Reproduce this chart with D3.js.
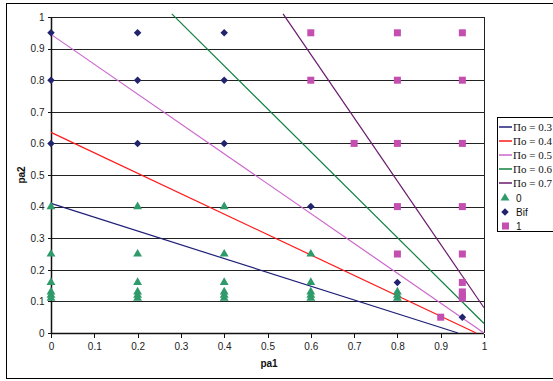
<!DOCTYPE html>
<meta charset="utf-8">
<style>
    body { margin: 0; background: #fff; }
    .tick text { font: 10px Arial, "Liberation Sans", sans-serif; fill: #222; }
    .title { font: bold 10px Arial, "Liberation Sans", sans-serif; fill: #111; }
    .legend text { font-size: 11px; fill: #111; }
</style>
<svg width="553" height="381"></svg>
<script src="https://cdn.jsdelivr.net/npm/d3@7"></script>
<script>

    // lines: Πo levels, each a straight segment [x, y] -> [x, y]
    var lineNames = ["Πo = 0.3", "Πo = 0.4", "Πo = 0.5", "Πo = 0.6", "Πo = 0.7"];
    var lineColors = ["#1f1f78", "#ff1a1a", "#cc66cc", "#118040", "#6a1a6e"];
    var lineSegs = [
        [[0, 0.41], [0.94, 0]],
        [[0, 0.635], [0.982, 0]],
        [[0, 0.945], [1, 0]],
        [[0.279, 1.01], [1, 0.03]],
        [[0.536, 1.01], [1, 0.08]]
    ];

    // point series
    var zeroPts = [
        [0, 0.4], [0, 0.25], [0, 0.16], [0, 0.13], [0, 0.12], [0, 0.11],
        [0.2, 0.4], [0.2, 0.25], [0.2, 0.16], [0.2, 0.13], [0.2, 0.12], [0.2, 0.11],
        [0.4, 0.4], [0.4, 0.25], [0.4, 0.16], [0.4, 0.13], [0.4, 0.12], [0.4, 0.11],
        [0.6, 0.25], [0.6, 0.16], [0.6, 0.13], [0.6, 0.12], [0.6, 0.11],
        [0.8, 0.13], [0.8, 0.12], [0.8, 0.11]
    ];
    var bifPts = [
        [0, 0.95], [0.2, 0.95], [0.4, 0.95],
        [0, 0.8], [0.2, 0.8], [0.4, 0.8],
        [0, 0.6], [0.2, 0.6], [0.4, 0.6],
        [0.6, 0.4], [0.8, 0.16], [0.95, 0.05]
    ];
    var onePts = [
        [0.6, 0.95], [0.8, 0.95], [0.95, 0.95],
        [0.6, 0.8], [0.8, 0.8], [0.95, 0.8],
        [0.7, 0.6], [0.8, 0.6], [0.95, 0.6],
        [0.8, 0.4], [0.95, 0.4],
        [0.8, 0.25], [0.95, 0.25],
        [0.95, 0.16], [0.95, 0.13], [0.95, 0.12], [0.95, 0.11],
        [0.9, 0.05]
    ];
    var xTicks = d3.range(0, 11).map(function (i) { return i / 10; });
    var yTicks = d3.range(0, 11).map(function (i) { return i / 10; });

    var svg = d3.select("svg");

    // chart frame
    svg.append("rect")
        .attr("x", 6.5).attr("y", 3.5)
        .attr("width", 560).attr("height", 375)
        .attr("fill", "#fff").attr("stroke", "#000");

    var x = d3.scaleLinear().domain([0, 1]).range([51, 484]);
    var y = d3.scaleLinear().domain([0, 1]).range([333, 17]);

    // horizontal gridlines
    svg.append("g").selectAll("line")
        .data(yTicks.slice(1))
        .enter().append("line")
        .attr("x1", x(0)).attr("x2", x(1))
        .attr("y1", function (d) { return Math.round(y(d)) + 0.5; })
        .attr("y2", function (d) { return Math.round(y(d)) + 0.5; })
        .attr("stroke", "#222").attr("stroke-width", 1);

    // right border of plot area
    svg.append("line")
        .attr("x1", x(1) + 0.5).attr("x2", x(1) + 0.5)
        .attr("y1", y(1)).attr("y2", y(0))
        .attr("stroke", "#222");

    var xAxis = svg.append("g")
        .attr("transform", "translate(0," + (Math.round(y(0)) + 0.5) + ")")
        .call(d3.axisBottom(x).tickValues(xTicks).tickSize(4).tickPadding(5)
            .tickFormat(function (d) { return d === 0 || d === 1 ? d3.format("d")(d) : d3.format(".1f")(d); }));
    var yAxis = svg.append("g")
        .attr("transform", "translate(" + (Math.round(x(0)) + 0.5) + ",0)")
        .call(d3.axisLeft(y).tickValues(yTicks).tickSize(4).tickPadding(3)
            .tickFormat(function (d) { return d === 0 || d === 1 ? d3.format("d")(d) : d3.format(".1f")(d); }));
    [xAxis, yAxis].forEach(function (a) {
        a.select(".domain").attr("stroke", "#111").attr("stroke-width", 1.5);
        a.selectAll(".tick line").attr("stroke", "#111");
        a.selectAll(".tick line").attr("shape-rendering", "crispEdges");
    });
    xAxis.select(".domain").attr("d", "M" + x(0) + ",0H" + x(1));
    yAxis.select(".domain").attr("d", "M0," + y(0) + "V" + y(1));

    svg.append("text").attr("class", "title")
        .attr("x", 269).attr("y", 367).attr("text-anchor", "middle").text("pa1");
    svg.append("text").attr("class", "title")
        .attr("transform", "translate(25," + y(0.5) + ") rotate(-90)")
        .attr("text-anchor", "middle").text("pa2");

    // lines
    var line = d3.line().x(function (d) { return x(d[0]); }).y(function (d) { return y(d[1]); });
    svg.append("g").selectAll("path")
        .data(lineSegs)
        .enter().append("path")
        .attr("d", line)
        .attr("fill", "none")
        .attr("stroke", function (d, i) { return lineColors[i]; })
        .attr("stroke-width", 1.2);

    // markers
    var triangle = d3.symbol().type(d3.symbolTriangle).size(34);
    var diamond = d3.symbol().type(d3.symbolDiamond2).size(36);

    svg.append("g").selectAll("path")
        .data(zeroPts)
        .enter().append("path")
        .attr("d", triangle)
        .attr("transform", function (d) { return "translate(" + x(d[0]) + "," + y(d[1]) + ")"; })
        .attr("fill", "#2f9a6a");

    svg.append("g").selectAll("path")
        .data(bifPts)
        .enter().append("path")
        .attr("d", diamond)
        .attr("transform", function (d) { return "translate(" + x(d[0]) + "," + y(d[1]) + ")"; })
        .attr("fill", "#22236e");

    svg.append("g").selectAll("rect")
        .data(onePts)
        .enter().append("rect")
        .attr("x", function (d) { return x(d[0]) - 3.5; })
        .attr("y", function (d) { return y(d[1]) - 3.5; })
        .attr("width", 7).attr("height", 7)
        .attr("fill", "#c44fb0");

    // legend
    var lg = svg.append("g").attr("class", "legend");
    lg.append("rect")
        .attr("x", 497.5).attr("y", 117.5)
        .attr("width", 70).attr("height", 114)
        .attr("fill", "#fff").attr("stroke", "#000");
    var rowY = [127, 141, 155, 169, 183, 198, 212, 226];
    lineNames.forEach(function (n, i) {
        lg.append("line")
            .attr("x1", 499).attr("x2", 512)
            .attr("y1", rowY[i]).attr("y2", rowY[i])
            .attr("stroke", lineColors[i]).attr("stroke-width", 1.5);
        lg.append("text")
            .attr("x", 513).attr("y", rowY[i] + 4)
            .style("font-family", "'Liberation Serif', 'Times New Roman', serif")
            .text(n);
    });
    lg.append("path").attr("d", triangle)
        .attr("transform", "translate(505," + rowY[5] + ")").attr("fill", "#2f9a6a");
    lg.append("path").attr("d", diamond)
        .attr("transform", "translate(505," + rowY[6] + ")").attr("fill", "#22236e");
    lg.append("rect").attr("x", 502).attr("y", rowY[7] - 3.5)
        .attr("width", 7).attr("height", 7).attr("fill", "#c44fb0");
    ["0", "Bif", "1"].forEach(function (n, i) {
        lg.append("text")
            .attr("x", 516).attr("y", rowY[5 + i] + 4)
            .style("font-family", "Arial, 'Liberation Sans', sans-serif")
            .style("font-size", "10px")
            .text(n);
    });

</script>
